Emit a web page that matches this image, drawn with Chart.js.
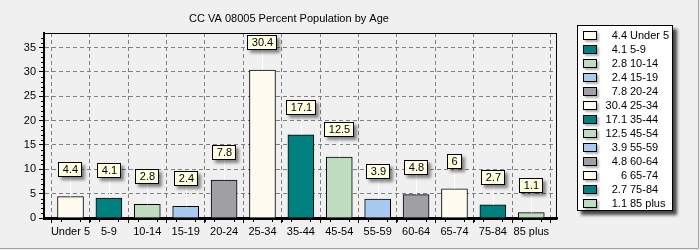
<!DOCTYPE html>
<html>
<head>
<meta charset="utf-8">
<script src="https://cdn.jsdelivr.net/npm/chart.js@4"></script>
<style>
  body { margin: 0; background: #f0f0f0; }
  #wrap { width: 700px; height: 250px; }
</style>
</head>
<body>
<div id="wrap"><canvas id="myChart" width="700" height="250"></canvas></div>
<script>
var titulo = "CC VA 08005 Percent Population by Age"
var categorias = ["Under 5", "5-9", "10-14", "15-19", "20-24", "25-34", "35-44", "45-54", "55-59", "60-64", "65-74", "75-84", "85 plus"]
var percentuais = [4.4, 4.1, 2.8, 2.4, 7.8, 30.4, 17.1, 12.5, 3.9, 4.8, 6, 2.7, 1.1]
var paleta = ["#fffbf0", "#008080", "#c0dcc0", "#a6caf0", "#a0a0a4"]
var cores = categorias.map((c, i) => paleta[i % paleta.length])

var fonte = "'Liberation Sans', Arial, sans-serif"

// caixinhas amarelas com o valor acima de cada barra
const rotulos = {
  id: "rotulos",
  afterDatasetsDraw(chart) {
    const ctx = chart.ctx
    const area = chart.chartArea
    ctx.save()
    // moldura da area do grafico
    ctx.strokeStyle = "#000"
    ctx.lineWidth = 1
    ctx.strokeRect(area.left + 0.5, area.top + 0.5, area.right - area.left - 1, area.bottom - area.top)
    ctx.lineWidth = 2
    ctx.beginPath()
    ctx.moveTo(area.left, area.top)
    ctx.lineTo(area.left, area.bottom + 1)
    ctx.lineTo(area.right + 0.5, area.bottom + 1)
    ctx.stroke()

    // tracinhos menores dos eixos
    const sx = chart.scales.x, sy = chart.scales.y
    ctx.lineWidth = 1
    ctx.beginPath()
    for (let i = 0; i < categorias.length; i++) {
      for (let k = -2; k <= 2; k++) {
        if (k == 0) continue
        const px = Math.round(sx.getPixelForValue(i + k * 0.25)) + 0.5
        if (px < area.left + 2 || px > area.right - 1) continue
        ctx.moveTo(px, area.bottom + 2)
        ctx.lineTo(px, area.bottom + 4)
      }
    }
    for (let v = 1; v < 38; v++) {
      if (v % 5 == 0) continue
      const py = Math.round(sy.getPixelForValue(v)) + 0.5
      ctx.moveTo(area.left - 3, py)
      ctx.lineTo(area.left - 1, py)
    }
    ctx.stroke()

    const meta = chart.getDatasetMeta(0)
    ctx.font = "11px " + fonte
    ctx.textAlign = "center"
    ctx.textBaseline = "middle"
    meta.data.forEach((barra, i) => {
      const txt = String(percentuais[i])
      const w = Math.round(ctx.measureText(txt).width) + 9
      const h = 15
      const x = Math.round(barra.x)
      const fundo = Math.round(barra.y) - 20
      // linha branca ligando
      ctx.strokeStyle = "#ffffff"
      ctx.lineWidth = 1
      ctx.beginPath()
      ctx.moveTo(x + 0.5, fundo)
      ctx.lineTo(x + 0.5, barra.y)
      ctx.stroke()
      const bx = Math.round(x - w / 2)
      ctx.save()
      ctx.shadowColor = "rgba(0,0,0,0.45)"
      ctx.shadowBlur = 3
      ctx.shadowOffsetX = 3
      ctx.shadowOffsetY = 3
      ctx.fillStyle = "#ffffe1"
      ctx.fillRect(bx, fundo - h, w, h)
      ctx.restore()
      ctx.strokeStyle = "#000"
      ctx.strokeRect(bx + 0.5, fundo - h + 0.5, w - 1, h - 1)
      ctx.fillStyle = "#000"
      ctx.fillText(txt, x + 0.5, fundo - h / 2 + 0.5)
    })
    ctx.restore()
  },
  afterDraw(chart) {
    const ctx = chart.ctx
    const area = chart.chartArea
    ctx.save()
    // legenda
    const lx = area.right + 20, ly = 25, lw = 96, lh = 186
    ctx.save()
    ctx.shadowColor = "rgba(0,0,0,0.7)"
    ctx.shadowBlur = 3
    ctx.shadowOffsetX = 4
    ctx.shadowOffsetY = 4
    ctx.fillStyle = "#ffffff"
    ctx.fillRect(lx, ly, lw, lh)
    ctx.restore()
    ctx.strokeStyle = "#000"
    ctx.lineWidth = 1
    ctx.strokeRect(lx + 0.5, ly + 0.5, lw - 1, lh - 1)
    ctx.font = "11px " + fonte
    ctx.textBaseline = "middle"
    categorias.forEach((c, i) => {
      const cy = ly + 10 + i * 14
      ctx.save()
      ctx.shadowColor = "rgba(0,0,0,0.3)"
      ctx.shadowBlur = 2
      ctx.shadowOffsetX = 2
      ctx.shadowOffsetY = 2
      ctx.fillStyle = cores[i]
      ctx.fillRect(lx + 6, cy - 4, 14, 9)
      ctx.restore()
      ctx.strokeStyle = "#000"
      ctx.strokeRect(lx + 6.5, cy - 3.5, 13, 8)
      ctx.fillStyle = "#000"
      ctx.textAlign = "right"
      ctx.fillText(String(percentuais[i]), lx + 50, cy + 0.5)
      ctx.textAlign = "left"
      ctx.fillText(c, lx + 53, cy + 0.5)
    })
    // borda da janela
    ctx.strokeStyle = "#a0a0a0"
    ctx.beginPath()
    ctx.moveTo(698.5, 0)
    ctx.lineTo(698.5, 248.5)
    ctx.lineTo(0, 248.5)
    ctx.stroke()
    ctx.restore()
  }
}

const ctx = document.getElementById("myChart")

new Chart(ctx, {
  type: "bar",
  data: {
    datasets: [{
      data: percentuais.map((v, i) => ({ x: i, y: v })),
      backgroundColor: cores,
      borderColor: "#000",
      borderWidth: 1,
      barThickness: 26
    }]
  },
  options: {
    responsive: false,
    animation: false,
    devicePixelRatio: 1,
    layout: { padding: { left: 21, right: 143, top: 0, bottom: 0 } },
    plugins: {
      legend: { display: false },
      tooltip: { enabled: false },
      title: {
        display: true,
        text: titulo,
        color: "#000",
        font: { family: fonte, size: 11, weight: "normal" },
        padding: { top: 12.4, bottom: 7.4 }
      }
    },
    scales: {
      x: {
        type: "linear",
        min: -0.69,
        max: 12.67,
        offset: false,
        afterFit: function (s) { s.height = 32 },
        ticks: {
          stepSize: 1,
          includeBounds: false,
          autoSkip: false,
          maxRotation: 0,
          color: "#000",
          padding: 2,
          font: { family: fonte, size: 11 },
          callback: function (v) { return categorias[v] ?? "" }
        },
        grid: { color: "#808080", tickColor: "#000", tickLength: 5, tickBorderDash: [] },
        border: { color: "#000", width: 2, dash: [4, 3] }
      },
      y: {
        min: 0,
        max: 38,
        afterFit: function (s) { s.width = 23 },
        ticks: {
          stepSize: 5,
          includeBounds: false,
          color: "#000",
          padding: 3,
          font: { family: fonte, size: 11 }
        },
        grid: { color: "#808080", tickColor: "#000", tickLength: 5, tickBorderDash: [] },
        border: { color: "#000", width: 2, dash: [4, 3] }
      }
    }
  },
  plugins: [rotulos]
})
</script>
</body>
</html>
